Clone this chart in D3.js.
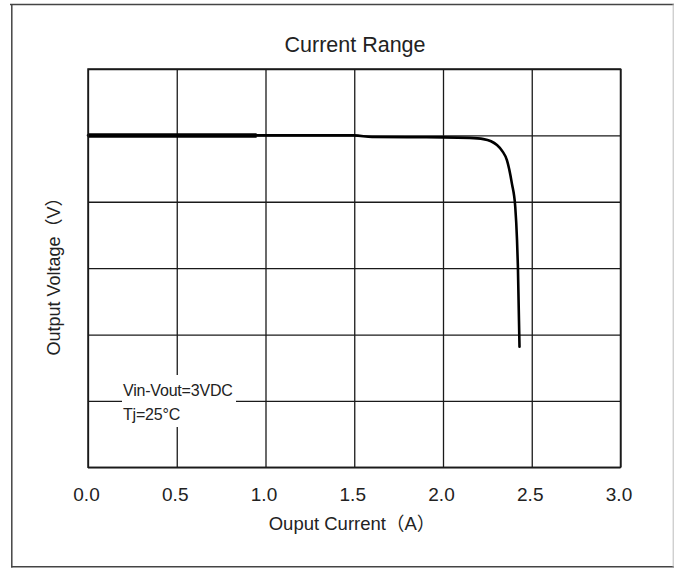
<!DOCTYPE html>
<html><head><meta charset="utf-8">
<script src="https://cdn.jsdelivr.net/npm/d3@7"></script>
<style>
html,body{margin:0;padding:0;background:#fff;}
svg{display:block;}
text{font-family:"Liberation Sans",Arial,"Noto Sans CJK SC",sans-serif;fill:#222;}
</style></head>
<body>
<script>
// ---- data ----
const title = "Current Range";
const xLabel = "Ouput Current\uFF08A\uFF09";
const yLabel = "Output Voltage\uFF08V\uFF09";
const xTicks = [0, 0.5, 1.0, 1.5, 2.0, 2.5, 3.0];
const yGrid = [0, 1, 2, 3, 4, 5, 6];
const current = [0, 0.5, 0.95, 1.2, 1.5, 1.6, 1.8, 2.0, 2.15, 2.228, 2.304, 2.335, 2.36, 2.388, 2.407, 2.417, 2.422, 2.431];
const voltage = [5.0, 5.0, 5.0, 5.0, 5.0, 4.975, 4.972, 4.97, 4.962, 4.944, 4.854, 4.76, 4.628, 4.277, 3.925, 3.425, 3.02, 1.816];
const thickUntil = 0.95;
const notes = ["Vin-Vout=3VDC", "Tj=25\u00B0C"];

const W = 674, H = 568;
const m = {left: 88, right: 620.5, top: 69, bottom: 467.3};

const svg = d3.select("body").append("svg").attr("width", W).attr("height", H);

// outer frame
svg.append("line").attr("x1", 10).attr("x2", 674).attr("y1", 4.5).attr("y2", 4.5).attr("stroke", "#444").attr("stroke-width", 1.5);
svg.append("line").attr("x1", 11.8).attr("x2", 11.8).attr("y1", 4).attr("y2", 567.5).attr("stroke", "#444").attr("stroke-width", 1.5);
svg.append("line").attr("x1", 11).attr("x2", 674).attr("y1", 566.8).attr("y2", 566.8).attr("stroke", "#444").attr("stroke-width", 1.5);
svg.append("line").attr("x1", 673.2).attr("x2", 673.2).attr("y1", 4).attr("y2", 567).attr("stroke", "#bbb").attr("stroke-width", 1);

const x = d3.scaleLinear().domain([0, 3]).range([m.left, m.right]);
const y = d3.scaleLinear().domain([0, 6]).range([m.bottom, m.top]);

// vertical grid via axis
const gx = svg.append("g").attr("transform", `translate(0,${m.bottom})`)
  .call(d3.axisBottom(x).tickValues(xTicks).tickFormat(d3.format(".1f")).tickSize(-(m.bottom - m.top)).tickPadding(0));
gx.select(".domain").remove();
gx.selectAll(".tick line").attr("stroke", "#1a1a1a").attr("stroke-width", 1.3);
gx.selectAll(".tick text").attr("font-size", 19).attr("dy", 0).attr("y", 34).attr("dx", -2)
  .attr("font-family", '"Liberation Sans",Arial,sans-serif').attr("fill", "#222");

// horizontal grid via axis
const gy = svg.append("g").attr("transform", `translate(${m.left},0)`)
  .call(d3.axisLeft(y).tickValues(yGrid).tickFormat("").tickSize(-(m.right - m.left)));
gy.select(".domain").remove();
gy.selectAll(".tick line").attr("stroke", "#1a1a1a").attr("stroke-width", 1.3);

// annotation background (breaks grid lines)
svg.append("rect").attr("x", 122).attr("y", 375).attr("width", 114).attr("height", 52).attr("fill", "#fff");
svg.append("text").attr("x", 123).attr("y", 396).attr("font-size", 16).attr("letter-spacing", -0.2).attr("fill", "#333").text(notes[0]);
svg.append("text").attr("x", 123).attr("y", 420).attr("font-size", 16).attr("letter-spacing", -0.2).attr("fill", "#333").text(notes[1]);

// curve
const pts = current.map((c, i) => [c, voltage[i]]);
const line = d3.line().x(d => x(d[0])).y(d => y(d[1])).curve(d3.curveMonotoneX);
svg.append("path").attr("d", line(pts)).attr("fill", "none").attr("stroke", "#000").attr("stroke-width", 2.6).attr("stroke-linecap", "round");
svg.append("path").attr("d", line(pts.filter(p => p[0] <= thickUntil))).attr("fill", "none").attr("stroke", "#000").attr("stroke-width", 4.5);

// plot border
svg.append("rect").attr("x", m.left).attr("y", m.top).attr("width", m.right - m.left).attr("height", m.bottom - m.top)
  .attr("fill", "none").attr("stroke", "#1a1a1a").attr("stroke-width", 1.5);

// titles
svg.append("text").attr("x", 355).attr("y", 52).attr("text-anchor", "middle").attr("font-size", 21.5).text(title);
svg.append("text").attr("x", 352).attr("y", 530).attr("text-anchor", "middle").attr("font-size", 18.5).text(xLabel);
svg.append("text").attr("transform", "translate(60,272) rotate(-90)").attr("text-anchor", "middle").attr("font-size", 18).attr("fill", "#333").text(yLabel);
</script>
</body></html>
